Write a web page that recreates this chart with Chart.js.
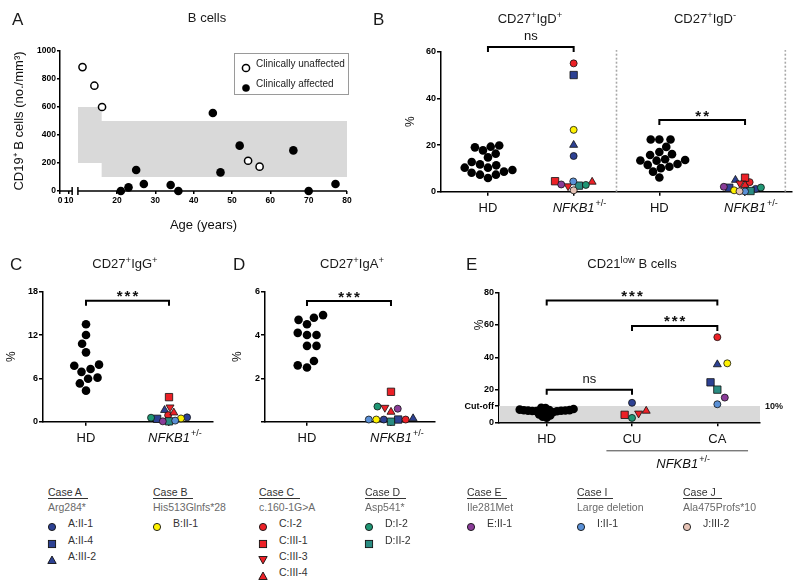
<!DOCTYPE html>
<html>
<head>
<meta charset="utf-8">
<title>NFKB1 B cell subsets</title>
<script src="https://cdn.jsdelivr.net/npm/chart.js@4.4.1/dist/chart.umd.min.js"></script>
<style>
  html, body { margin: 0; padding: 0; background: #fff; }
  body { position: relative; width: 800px; height: 586px; overflow: hidden;
         font-family: 'Liberation Sans', Arial, sans-serif; color: #1a1a1a; }
  canvas, .txt, .mk { position: absolute; }
  .txt { white-space: nowrap; line-height: 1; }
  .letter { font-size: 17px; }
  .title { font-size: 13px; transform: translateX(-50%); }
  .title sup { font-size: 9.5px; position: relative; top: -5px; vertical-align: baseline; line-height: 0; }
  .lgA { font-size: 10px; color: #222; }
  .case { font-size: 10.5px; color: #333; border-bottom: 1px solid #333; padding-right: 6px; line-height: 11px; }
  .mut { font-size: 10.5px; color: #6a6a6a; }
  .pt { font-size: 10.5px; color: #333; }
</style>
</head>
<body>
<canvas id="chartA" width="360" height="240" style="left:0;top:0"></canvas>
<canvas id="chartB" width="430" height="240" style="left:370px;top:0"></canvas>
<canvas id="chartC" width="240" height="210" style="left:0;top:250px"></canvas>
<canvas id="chartD" width="250" height="210" style="left:220px;top:250px"></canvas>
<canvas id="chartE" width="340" height="230" style="left:460px;top:250px"></canvas>

<div class="txt letter" style="left:12px;top:10.5px">A</div>
<div class="txt title" style="left:207px;top:10.5px">B cells</div>
<div class="txt letter" style="left:373px;top:10.5px">B</div>
<div class="txt title" style="left:530px;top:11.5px">CD27<sup>+</sup>IgD<sup>+</sup></div>
<div class="txt title" style="left:705px;top:11.5px">CD27<sup>+</sup>IgD<sup>-</sup></div>
<div class="txt letter" style="left:10px;top:255.5px">C</div>
<div class="txt title" style="left:125px;top:256.5px">CD27<sup>+</sup>IgG<sup>+</sup></div>
<div class="txt letter" style="left:233px;top:255.5px">D</div>
<div class="txt title" style="left:352px;top:256.5px">CD27<sup>+</sup>IgA<sup>+</sup></div>
<div class="txt letter" style="left:466px;top:255.5px">E</div>
<div class="txt title" style="left:632px;top:256.5px">CD21<sup>low</sup> B cells</div>

<!-- panel A legend box -->
<div style="position:absolute;left:234px;top:53px;width:113px;height:40px;border:1px solid #9a9a9a"></div>
<div id="legendA"></div>
<div id="legendCases"></div>

<script>
const FONT = "'Liberation Sans', Arial, sans-serif";
Chart.defaults.font.family = FONT;
Chart.defaults.color = '#111';
Chart.defaults.animation = false;

// ── Panel A: absolute B cell counts vs age ─────────────────
const ageUnaffected = [11.0, 14.1, 16.1, 54.2, 57.2];
const bcellUnaffected = [885, 752, 600, 216, 174];
const ageAffected = [21, 23, 25, 27, 34, 36, 45, 47, 52, 66, 70, 77];
const bcellAffected = [0, 26, 150, 50, 43, 0, 557, 133, 324, 290, 0, 50];
// age-matched reference range (grey band)
const refAges = [9.8, 16, 80];
const refHigh = [600, 500, 500];
const refLow = [200, 100, 100];
const ageTicks = [0, 10, 20, 30, 40, 50, 60, 70, 80];
const bcellTicks = [0, 200, 400, 600, 800, 1000];
// 0 and 10 sit on the short segment before the axis break
const ageScaleMin = 5.13;
const ageBreak = [8.3, 9.8];
const agePos = a => a === 0 ? ageScaleMin : a === 10 ? 7.4 : a;

// ── Patients (NFKB1+/-) ───────────────────────────────────
const patients = ['A:II-1', 'A:II-4', 'A:III-2', 'B:II-1', 'C:I-2', 'C:III-1', 'C:III-3',
                  'C:III-4', 'D:I-2', 'D:II-2', 'E:II-1', 'I:II-1', 'J:III-2'];
const cases = ['A', 'B', 'C', 'D', 'E', 'I', 'J'];
const mutations = ['Arg284*', 'His513Glnfs*28', 'c.160-1G>A', 'Asp541*', 'Ile281Met',
                   'Large deletion', 'Ala475Profs*10'];
const ptStatus = ['CU', 'CA', 'CA', 'CA', 'CA', 'CU', 'CU', 'CU', 'CU', 'CA', 'CA', 'CA', null];

// ── Panel B-E values (% of B cells) ───────────────────────
const hdIgDpos = [19.8, 19.0, 14.7, 16.3, 17.7, 19.3, 11.7, 11.3, 12.7, 10.3, 8.6, 7.3, 5.9, 7.3, 8.1, 9.3, 10.3];
const ptIgDpos = [15.3, 50, 20, 26.5, 55, 4.5, 2.4, 4.2, 2.9, 2.6, 3.1, 4.4, 0.6];
const hdIgDneg = [22.4, 22.4, 22.4, 19.2, 17, 15.7, 16.1, 13.4, 13.3, 13.6, 13.9, 11.9, 10.7, 10.1, 11.5, 8.6, 6.1];
const ptIgDneg = [1.2, 1.7, 5.0, 0.6, 4.1, 6.0, 3.6, 2.8, 1.8, 0.3, 2.1, 0.1, 0.2];
const hdIgG = [13.5, 12.0, 10.8, 9.6, 7.9, 7.75, 7.3, 6.9, 6.1, 5.95, 5.3, 4.3];
const ptIgG = [0.6, 0.4, 1.6, 0.45, 0.9, 3.4, 2.0, 1.25, 0.55, 0.05, 0.05, 0.15, null];
const hdIgA = [4.92, 4.7, 4.5, 4.8, 4.1, 4.0, 4.0, 3.5, 3.5, 2.8, 2.5, 2.6];
const ptIgA = [0.1, 0.1, 0.15, 0.1, 0.1, 1.38, 0.65, 0.45, 0.7, 0.0, 0.6, 0.1, null];
const hdCD21 = [7.6, 7.3, 7.0, 6.8, 7.4, 7.1, 6.6, 7.8, 8.2, 9.0, 8.7, 6.2, 5.6, 4.9, 4.2, 3.5, 2.8, 6.9, 7.5, 7.2];
const ptCD21 = [12, 24.6, 35.6, 36.3, 52.4, 4.6, 5.5, 7.0, 2.7, 20.1, 15.2, 11.1, null];
const cutoffE = 10;

const groupsB = ['HD', 'NFKB1+/-', 'HD', 'NFKB1+/-'];
const groupsCD = ['HD', 'NFKB1+/-'];
const groupsE = ['HD', 'CU', 'CA'];

// comparisons: [group a, group b, bracket height, label]
const sigB = [[1, 2, 62, 'ns'], [3, 4, 30.7, '**']];
const sigC = [[1, 2, 16.75, '***']];
const sigD = [[1, 2, 5.57, '***']];
const sigE = [[1, 2, 20, 'ns'], [1, 3, 75, '***'], [2, 3, 59.3, '***']];

// ── Marker styles ─────────────────────────────────────────
const patientColor = ['#2d4193', '#2d4193', '#2d4193', '#fff200', '#ec2127', '#ec2127', '#ec2127',
                      '#ec2127', '#1f9674', '#2a8c82', '#8a3c98', '#5a90d6', '#e6c3b6'];
const patientShape = ['circle', 'rect', 'triangle', 'circle', 'circle', 'rect', 'down',
                      'triangle', 'circle', 'rect', 'circle', 'circle', 'circle'];
const SHAPE_STYLE = { circle: 'circle', rect: 'rect', triangle: 'triangle', down: 'triangle' };
const SHAPE_RADIUS = { circle: 3.5, rect: 5.2, triangle: 4.6, down: 4.6 };

const tickFont = { family: FONT, size: 9, weight: 'bold' };
const tickGrid = { drawOnChartArea: false, drawTicks: true, tickLength: 4, color: '#000', lineWidth: 1.5 };
const axisBorder = { color: '#000', width: 1.5 };

function fixSize(size) {
  return s => {
    if (s.isHorizontal()) s.height = size; else s.width = size;
    s.paddingLeft = s.paddingRight = s.paddingTop = s.paddingBottom = 0;
  };
}

function hdSet(values, center, gap) {
  return {
    data: values.map(v => ({ x: center, y: v })),
    swarm: gap, center,
    pointStyle: 'circle', pointRadius: 4.3, backgroundColor: '#000', borderColor: '#000',
    borderWidth: 0, clip: false, order: 1
  };
}

function patientSet(values, center, gap, keep) {
  const data = [];
  values.forEach((v, i) => {
    if (v != null && (!keep || keep(i))) data.push({ x: center, y: v, p: i });
  });
  const pick = (arr, dflt) => c => (c.raw && c.raw.p != null) ? arr(c.raw.p) : dflt;
  return {
    data, swarm: gap, center,
    pointStyle: pick(p => SHAPE_STYLE[patientShape[p]], 'circle'),
    rotation: pick(p => patientShape[p] === 'down' ? 180 : 0, 0),
    pointRadius: pick(p => SHAPE_RADIUS[patientShape[p]], 3.5),
    backgroundColor: pick(p => patientColor[p], '#000'),
    borderColor: '#111', borderWidth: 0.8, clip: false, order: 0
  };
}

// beeswarm: spread points of one group sideways so they don't overlap
function applySwarm(chart) {
  const xs = chart.scales.x, ys = chart.scales.y;
  chart.data.datasets.forEach(ds => {
    if (!ds.swarm) return;
    const gap = ds.swarm;
    const cx = xs.getPixelForValue(ds.center);
    const order = ds.data.map((p, i) => i).sort((a, b) => ds.data[a].y - ds.data[b].y);
    const placed = [];
    order.forEach((i, n) => {
      const py = ys.getPixelForValue(ds.data[i].y);
      const blocks = [];
      placed.forEach(q => {
        const dy = Math.abs(q.y - py);
        if (dy < gap) {
          const d = Math.sqrt(gap * gap - dy * dy);
          blocks.push([q.x - d, q.x + d]);
        }
      });
      const side = n % 2 ? 1 : -1;
      const cands = [cx];
      blocks.forEach(b => cands.push(b[0], b[1]));
      cands.sort((a, b) => (Math.abs(a - cx) - Math.abs(b - cx)) || (a - b) * side);
      const px = cands.find(c => blocks.every(b => c <= b[0] + 0.01 || c >= b[1] - 0.01));
      placed.push({ x: px, y: py });
      ds.data[i].x = xs.getValueForPixel(px);
    });
  });
  chart.update('none');
}

function drawCat(ctx, x, y, label) {
  ctx.fillStyle = '#111';
  ctx.textBaseline = 'alphabetic';
  if (label.startsWith('NFKB1')) {
    ctx.font = 'italic 13px ' + FONT;
    const w = ctx.measureText('NFKB1').width;
    ctx.textAlign = 'left';
    ctx.fillText('NFKB1', x - w / 2, y);
    ctx.font = '9px ' + FONT;
    ctx.fillText('+/-', x + w / 2 + 1, y - 6);
  } else {
    ctx.font = '13px ' + FONT;
    ctx.textAlign = 'center';
    ctx.fillText(label, x, y);
  }
}

function decorPlugin(spec) {
  return {
    id: 'decor',
    beforeDatasetsDraw(chart) {
      const { ctx, chartArea: ca } = chart;
      const xs = chart.scales.x, ys = chart.scales.y;
      ctx.save();
      ctx.strokeStyle = '#a8a8a8';
      ctx.lineWidth = 1.6;
      ctx.setLineDash([2, 2]);
      (spec.dividers || []).forEach(v => {
        const px = xs.getPixelForValue(v);
        ctx.beginPath();
        ctx.moveTo(px, ca.bottom);
        ctx.lineTo(px, ys.getPixelForValue(spec.dividerTop));
        ctx.stroke();
      });
      ctx.restore();
    },
    afterDraw(chart) {
      const { ctx, chartArea: ca } = chart;
      const xs = chart.scales.x, ys = chart.scales.y;
      ctx.save();
      (spec.sig || []).forEach(([a, b, yv, txt]) => {
        const x1 = xs.getPixelForValue(a), x2 = xs.getPixelForValue(b), py = ys.getPixelForValue(yv);
        ctx.strokeStyle = '#000';
        ctx.lineWidth = 2;
        ctx.beginPath();
        ctx.moveTo(x1, py + 5); ctx.lineTo(x1, py); ctx.lineTo(x2, py); ctx.lineTo(x2, py + 5);
        ctx.stroke();
        ctx.fillStyle = '#111';
        ctx.textAlign = 'center';
        ctx.textBaseline = 'alphabetic';
        if (txt === 'ns') {
          ctx.font = '13px ' + FONT;
          ctx.fillText(txt, (x1 + x2) / 2, py - 7);
        } else {
          ctx.font = 'bold 15px ' + FONT;
          ctx.letterSpacing = '2px';
          ctx.fillText(txt, (x1 + x2) / 2 + 1, py + 0.5);
          ctx.letterSpacing = '0px';
        }
      });
      spec.groups.forEach((g, i) => drawCat(ctx, xs.getPixelForValue(i + 1), ca.bottom + 20.5, g));
      if (spec.after) spec.after(chart, ctx, ca, xs, ys);
      ctx.restore();
    }
  };
}

function dotOptions(o) {
  return {
    responsive: false, events: [],
    layout: { padding: { left: o.padLeft, top: o.padTop, right: o.padRight, bottom: 0 }, autoPadding: false },
    plugins: { legend: { display: false }, tooltip: { enabled: false } },
    scales: {
      x: {
        type: 'linear', min: o.xMin, max: o.xMax, afterFit: fixSize(o.xHeight),
        afterBuildTicks: s => { s.ticks = o.groups.map((g, i) => ({ value: i + 1 })); },
        border: axisBorder, grid: tickGrid, ticks: { display: false }
      },
      y: {
        min: 0, max: o.yMax, afterFit: fixSize(o.yWidth),
        afterBuildTicks: s => { s.ticks = o.yTicks.map(v => ({ value: v })); },
        border: axisBorder, grid: tickGrid,
        ticks: { padding: 1, font: tickFont, color: '#000', autoSkip: false, callback: o.yLabel || (v => String(v)) },
        title: { display: o.titlePad != null, text: '%', font: { size: 12 }, color: '#111',
                 padding: { top: o.titlePad || 0, bottom: 0 } }
      }
    }
  };
}

// ── Chart A ───────────────────────────────────────────────
const brokenAxis = {
  id: 'brokenAxis',
  beforeDatasetsDraw(chart) {
    const { ctx, chartArea: ca } = chart;
    const xs = chart.scales.x;
    const b0 = xs.getPixelForValue(ageBreak[0]), b1 = xs.getPixelForValue(ageBreak[1]);
    ctx.save();
    ctx.strokeStyle = '#000';
    ctx.lineWidth = 1.5;
    ctx.beginPath();
    ctx.moveTo(ca.left - 0.75, ca.bottom); ctx.lineTo(b0, ca.bottom);
    ctx.moveTo(b1, ca.bottom); ctx.lineTo(ca.right, ca.bottom);
    ctx.moveTo(b0, ca.bottom - 4); ctx.lineTo(b0, ca.bottom + 4);
    ctx.moveTo(b1, ca.bottom - 4); ctx.lineTo(b1, ca.bottom + 4);
    ctx.stroke();
    ctx.restore();
  }
};

new Chart(document.getElementById('chartA'), {
  type: 'scatter',
  data: {
    datasets: [
      { type: 'line', data: refAges.map((a, i) => ({ x: a, y: refHigh[i] })), stepped: 'before', fill: '+1',
        backgroundColor: '#d9d9d9', borderColor: 'rgba(0,0,0,0)', borderWidth: 0, pointRadius: 0, order: 2 },
      { type: 'line', data: refAges.map((a, i) => ({ x: a, y: refLow[i] })), stepped: 'before', fill: false,
        borderColor: 'rgba(0,0,0,0)', borderWidth: 0, pointRadius: 0, order: 2 },
      { label: 'Clinically unaffected', data: ageUnaffected.map((a, i) => ({ x: a, y: bcellUnaffected[i] })),
        pointRadius: 3.6, borderWidth: 1.5, borderColor: '#000', backgroundColor: '#fff', clip: false, order: 0 },
      { label: 'Clinically affected', data: ageAffected.map((a, i) => ({ x: a, y: bcellAffected[i] })),
        pointRadius: 4.3, borderWidth: 0, borderColor: '#000', backgroundColor: '#000', clip: false, order: 0 }
    ]
  },
  options: {
    responsive: false, events: [],
    layout: { padding: { left: 0, top: 51, right: 13, bottom: 0 }, autoPadding: false },
    plugins: { legend: { display: false }, tooltip: { enabled: false } },
    scales: {
      x: {
        type: 'linear', min: ageScaleMin, max: 80, afterFit: fixSize(49),
        afterBuildTicks: s => { s.ticks = ageTicks.map(a => ({ value: agePos(a) })); },
        border: { display: false },
        grid: { drawOnChartArea: false, drawTicks: true, tickLength: 3, color: '#000', lineWidth: 1.5 },
        ticks: { autoSkip: false, maxRotation: 0, padding: 2, font: { family: FONT, size: 8.5, weight: 'bold' },
                 color: '#000', callback: (v, i) => String(ageTicks[i]) },
        title: { display: true, text: 'Age (years)', font: { size: 13 }, color: '#111', padding: { top: 0, bottom: 7 } }
      },
      y: {
        min: 0, max: 1000, afterFit: fixSize(60),
        afterBuildTicks: s => { s.ticks = bcellTicks.map(v => ({ value: v })); },
        border: axisBorder,
        grid: { drawOnChartArea: false, drawTicks: true, tickLength: 3, color: '#000', lineWidth: 1.5 },
        ticks: { padding: 1, font: { family: FONT, size: 8.5, weight: 'bold' }, color: '#000', autoSkip: false,
                 callback: v => String(v) },
        title: { display: true, text: 'CD19⁺ B cells (no./mm³)', font: { size: 13 }, color: '#111',
                 padding: { top: 12, bottom: 0 } }
      }
    }
  },
  plugins: [brokenAxis]
});

// ── Chart B ───────────────────────────────────────────────
const chartB = new Chart(document.getElementById('chartB'), {
  type: 'scatter',
  data: { datasets: [hdSet(hdIgDpos, 1, 8.6), patientSet(ptIgDpos, 2, 7),
                     hdSet(hdIgDneg, 3, 8.6), patientSet(ptIgDneg, 4, 5.5)] },
  options: dotOptions({ groups: groupsB, xMin: 0.452, xMax: 4.548, yMax: 60, yTicks: [0, 20, 40, 60],
                        padLeft: 30, padTop: 51.7, padRight: 8, yWidth: 41, xHeight: 48.3, titlePad: 3 }),
  plugins: [decorPlugin({ groups: groupsB, sig: sigB, dividers: [2.5, 4.47], dividerTop: 60.7 })]
});
applySwarm(chartB);

// ── Chart C ───────────────────────────────────────────────
const chartC = new Chart(document.getElementById('chartC'), {
  type: 'scatter',
  data: { datasets: [hdSet(hdIgG, 1, 9.5), patientSet(ptIgG, 2, 6.2)] },
  options: dotOptions({ groups: groupsCD, xMin: 0.482, xMax: 2.53, yMax: 18, yTicks: [0, 6, 12, 18],
                        padLeft: 0, padTop: 41.7, padRight: 27, yWidth: 43, xHeight: 38.3, titlePad: 4.5 }),
  plugins: [decorPlugin({ groups: groupsCD, sig: sigC })]
});
applySwarm(chartC);

// ── Chart D ───────────────────────────────────────────────
const chartD = new Chart(document.getElementById('chartD'), {
  type: 'scatter',
  data: { datasets: [hdSet(hdIgA, 1, 9.5), patientSet(ptIgA, 2, 7.5)] },
  options: dotOptions({ groups: groupsCD, xMin: 0.5, xMax: 2.524, yMax: 6, yTicks: [0, 2, 4, 6],
                        yLabel: v => v === 0 ? '' : String(v),
                        padLeft: 0, padTop: 41.7, padRight: 35, yWidth: 45, xHeight: 38.3, titlePad: 10.8 }),
  plugins: [decorPlugin({ groups: groupsCD, sig: sigD })]
});
applySwarm(chartD);

// ── Chart E ───────────────────────────────────────────────
const xMinE = 0.441, xMaxE = 3.5;
const nfkbSpanE = [1.7, 3.36];
const chartE = new Chart(document.getElementById('chartE'), {
  type: 'scatter',
  data: {
    datasets: [
      { type: 'line', data: [{ x: xMinE, y: cutoffE }, { x: xMaxE, y: cutoffE }], fill: 'origin',
        backgroundColor: '#d9d9d9', borderColor: 'rgba(0,0,0,0)', borderWidth: 0, pointRadius: 0, order: 2 },
      hdSet(hdCD21, 1, 4.2),
      patientSet(ptCD21, 2, 8, i => ptStatus[i] === 'CU'),
      patientSet(ptCD21, 3, 10, i => ptStatus[i] === 'CA')
    ]
  },
  options: dotOptions({ groups: groupsE, xMin: xMinE, xMax: xMaxE, yMax: 80, yTicks: [0, cutoffE, 20, 40, 60, 80],
                        yLabel: v => v === cutoffE ? 'Cut-off' : String(v),
                        padLeft: 0, padTop: 42.3, padRight: 40, yWidth: 39, xHeight: 57.7 }),
  plugins: [decorPlugin({
    groups: groupsE, sig: sigE,
    after(chart, ctx, ca, xs, ys) {
      ctx.fillStyle = '#111';
      ctx.font = 'bold 9px ' + FONT;
      ctx.textAlign = 'left';
      ctx.textBaseline = 'middle';
      ctx.fillText(cutoffE + '%', ca.right + 5, ys.getPixelForValue(cutoffE));
      // "%" axis title
      ctx.save();
      ctx.translate(20, ys.getPixelForValue(60));
      ctx.rotate(-Math.PI / 2);
      ctx.font = '12px ' + FONT;
      ctx.textAlign = 'center';
      ctx.fillText('%', 0, 0);
      ctx.restore();
      // NFKB1+/- group bar under CU and CA
      const x1 = xs.getPixelForValue(nfkbSpanE[0]), x2 = xs.getPixelForValue(nfkbSpanE[1]);
      ctx.strokeStyle = '#444';
      ctx.lineWidth = 1;
      ctx.beginPath();
      ctx.moveTo(x1, ca.bottom + 28.5);
      ctx.lineTo(x2, ca.bottom + 28.5);
      ctx.stroke();
      drawCat(ctx, (x1 + x2) / 2, ca.bottom + 45.5, 'NFKB1+/-');
    }
  })]
});
applySwarm(chartE);

// ── Legends (HTML) ────────────────────────────────────────
function markerSvg(shape, fill, stroke, sw) {
  let el;
  if (shape === 'circle') el = '<circle cx="5" cy="5" r="3.6"/>';
  else if (shape === 'rect') el = '<rect x="1.4" y="1.4" width="7.2" height="7.2"/>';
  else if (shape === 'triangle') el = '<polygon points="5,1 9.2,8.5 0.8,8.5"/>';
  else el = '<polygon points="5,9 9.2,1.5 0.8,1.5"/>';
  return `<svg width="10" height="10" viewBox="0 0 10 10"><g fill="${fill}" stroke="${stroke}" stroke-width="${sw}">${el}</g></svg>`;
}

const legendA = [
  { text: 'Clinically unaffected', fill: '#fff', sw: 1.5, y: 64 },
  { text: 'Clinically affected', fill: '#000', sw: 0.5, y: 84 }
];
document.getElementById('legendA').innerHTML = legendA.map(e =>
  `<div class="mk" style="left:241px;top:${e.y - 5}px">${markerSvg('circle', e.fill, '#000', e.sw)}</div>` +
  `<div class="txt lgA" style="left:256px;top:${e.y - 5}px">${e.text}</div>`).join('');

const caseColX = [48, 153, 259, 365, 467, 577, 683];
const rowY = [523, 540, 556, 572];
let html = '';
cases.forEach((c, k) => {
  const x = caseColX[k];
  html += `<div class="txt case" style="left:${x}px;top:487px">Case ${c}</div>`;
  html += `<div class="txt mut" style="left:${x}px;top:501.5px">${mutations[k].replace('>', '&gt;')}</div>`;
  patients.map((p, i) => i).filter(i => patients[i][0] === c).forEach((i, r) => {
    html += `<div class="mk" style="left:${x - 1}px;top:${rowY[r] - 5}px">${markerSvg(patientShape[i], patientColor[i], '#111', 0.9)}</div>`;
    html += `<div class="txt pt" style="left:${x + 20}px;top:${rowY[r] - 5.5}px">${patients[i]}</div>`;
  });
});
document.getElementById('legendCases').innerHTML = html;
</script>
</body>
</html>
